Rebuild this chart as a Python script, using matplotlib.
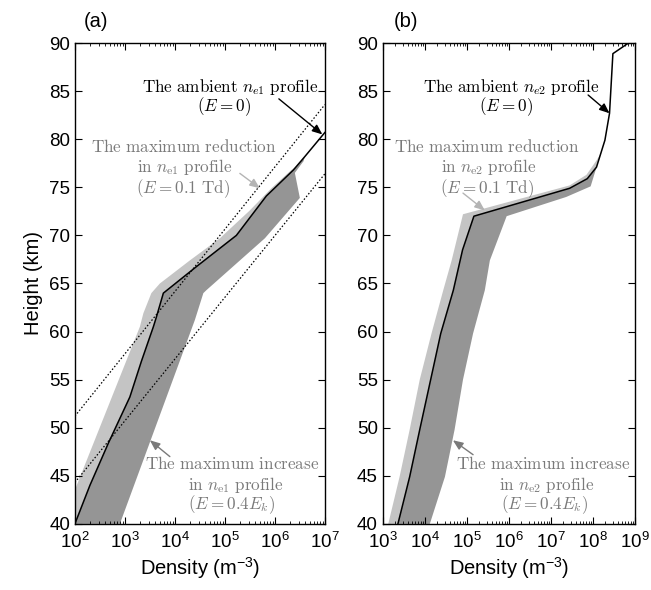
import numpy as np
import matplotlib
matplotlib.use('Agg')
import matplotlib.pyplot as plt
from matplotlib.ticker import LogLocator

plt.rcParams['font.family'] = ['Liberation Sans', 'DejaVu Sans']
plt.rcParams['mathtext.fontset'] = 'custom'
plt.rcParams['mathtext.rm'] = 'Liberation Sans'
plt.rcParams['mathtext.it'] = 'Liberation Sans:italic'

# ---- panel (a): n_e1 profiles, heights in km, densities as log10(m^-3)
a_amb_h = [40.0, 44.0, 48.4, 53.2, 56.9, 60.5, 61.5, 64.0, 66.75, 70.0, 74.1, 76.8, 78.2, 80.7]
a_amb_log = [2.0, 2.3, 2.67, 3.1, 3.33, 3.57, 3.63, 3.77, 4.43, 5.23, 5.83, 6.37, 6.6, 7.0]
a_red_h = [40.0, 60.5, 61.9, 64.0, 65.0, 67.4, 69.7, 72.6, 74.9, 76.8, 77.7, 78.2]
a_red_log = [1.73, 3.3, 3.37, 3.53, 3.7, 4.3, 4.9, 5.5, 5.93, 6.33, 6.57, 6.6]
a_inc_h = [40.0, 61.2, 64.0, 64.3, 69.7, 73.9, 76.5, 77.7, 78.2]
a_inc_log = [2.9, 4.4, 4.57, 4.63, 5.8, 6.5, 6.4, 6.57, 6.6]
a_dot1_log = [2.0, 7.0]
a_dot1_h = [51.2, 83.6]
a_dot2_log = [2.0, 7.0]
a_dot2_h = [44.3, 76.4]

# ---- panel (b): n_e2 profiles
b_amb_h = [40.0, 44.9, 49.8, 55.0, 59.8, 64.3, 68.5, 72.0, 74.9, 75.9, 77.1, 78.5, 79.9, 82.7, 85.8, 88.9, 90.0]
b_amb_log = [3.36, 3.64, 3.88, 4.14, 4.38, 4.68, 4.9, 5.17, 7.45, 7.87, 8.09, 8.19, 8.29, 8.40, 8.44, 8.48, 8.85]
b_red_h = [40.0, 44.9, 49.8, 55.0, 59.8, 64.3, 67.4, 72.2, 75.2, 76.3, 77.8, 78.5]
b_red_log = [3.13, 3.40, 3.64, 3.88, 4.16, 4.44, 4.64, 4.91, 7.45, 7.85, 8.09, 8.19]
b_inc_h = [40.0, 44.9, 49.8, 55.0, 59.8, 64.3, 67.4, 72.0, 74.0, 75.1, 76.8, 78.5]
b_inc_log = [4.12, 4.48, 4.71, 4.91, 5.15, 5.43, 5.55, 5.95, 7.37, 7.95, 8.07, 8.19]

light = '#c4c4c4'
dark = '#959595'
txtgray = '#7a7a7a'

fig = plt.figure(figsize=(6.51, 5.90), dpi=100)
ax1 = fig.add_axes([0.115, 0.112, 0.384, 0.815])
ax2 = fig.add_axes([0.588, 0.112, 0.387, 0.815])


def draw_panel(ax, amb_h, amb_log, red_h, red_log, inc_h, inc_log):
    amb_h = np.array(amb_h)
    amb = 10.0 ** np.array(amb_log)
    red = 10.0 ** np.array(red_log)
    inc = 10.0 ** np.array(inc_log)
    # ambient part below where the bands close up
    m = amb_h <= red_h[-1] + 1e-9
    ax.fill(np.concatenate([red, amb[m][::-1]]), np.concatenate([red_h, amb_h[m][::-1]]),
            color=light, lw=0, zorder=1)
    m = amb_h <= inc_h[-1] + 1e-9
    ax.fill(np.concatenate([inc, amb[m][::-1]]), np.concatenate([inc_h, amb_h[m][::-1]]),
            color=dark, lw=0, zorder=1)
    ax.plot(amb, amb_h, color='black', lw=1.1, zorder=3)


def style(ax, xlo, xhi):
    ax.set_xscale('log')
    ax.set_xlim(xlo, xhi)
    ax.set_ylim(40, 90)
    ax.set_yticks(range(40, 91, 5))
    ax.xaxis.set_major_locator(LogLocator(base=10, numticks=20))
    ax.xaxis.set_minor_locator(LogLocator(base=10, subs=np.arange(2, 10), numticks=20))
    ax.tick_params(which='both', direction='in', top=True, right=True, labelsize=13.5)
    ax.tick_params(which='major', length=5)
    ax.tick_params(which='minor', length=2.5)
    ax.tick_params(axis='x', pad=6)
    for s in ax.spines.values():
        s.set_linewidth(1.0)
    ax.set_xlabel(r'Density (m$^{\mathregular{-3}}$)', fontsize=14.5, labelpad=2)


draw_panel(ax1, a_amb_h, a_amb_log, a_red_h, a_red_log, a_inc_h, a_inc_log)
ax1.plot(10.0 ** np.array(a_dot1_log), a_dot1_h, color='black', ls=(0, (1.2, 1.6)), lw=0.9, zorder=2)
ax1.plot(10.0 ** np.array(a_dot2_log), a_dot2_h, color='black', ls=(0, (1.2, 1.6)), lw=0.9, zorder=2)
style(ax1, 1e2, 1e7)
ax1.set_ylabel('Height (km)', fontsize=14.5, labelpad=4)

draw_panel(ax2, b_amb_h, b_amb_log, b_red_h, b_red_log, b_inc_h, b_inc_log)
style(ax2, 1e3, 1e9)

fs = 12.3


def label(ax, ys, lines, color, xs):
    for x, y, t in zip(xs, ys, lines):
        ax.text(10 ** x, y, t, ha='center', va='center', color=color, fontsize=fs,
                math_fontfamily='cm', zorder=5)


def arrow(ax, tail, tip, color):
    ax.annotate('', xy=(10 ** tip[0], tip[1]), xytext=(10 ** tail[0], tail[1]),
                arrowprops=dict(arrowstyle='-|>,head_length=0.6,head_width=0.25', color=color, lw=1.0,
                                shrinkA=0, shrinkB=0), zorder=6)


# panel (a) annotations
label(ax1, [85.4, 83.4], [r'$\mathrm{The\ ambient\ }n_{e1}\mathrm{\ profile}$', r'$(E=0)$'],
      'black', xs=[5.1, 4.98])
label(ax1, [79.2, 77.1, 74.9],
      [r'$\mathrm{The\ maximum\ reduction}$', r'$\mathrm{in\ }n_{\rm e1}\mathrm{\ profile}$',
       r'$(E=0.1\ \mathrm{Td})$'], txtgray, xs=[4.18, 4.2, 4.16])
label(ax1, [46.3, 44.0, 42.0],
      [r'$\mathrm{The\ maximum\ increase}$', r'$\mathrm{in\ }n_{\rm e1}\mathrm{\ profile}$',
       r'$(E=0.4E_k)$'], txtgray, xs=[5.14, 5.22, 5.14])
arrow(ax1, (6.08, 84.2), (6.95, 80.5), 'black')
arrow(ax1, (5.3, 76.45), (5.7, 74.9), '#b4b4b4')
arrow(ax1, (3.9, 47.0), (3.5, 48.7), txtgray)

# panel (b) annotations
label(ax2, [85.4, 83.4], [r'$\mathrm{The\ ambient\ }n_{e2}\mathrm{\ profile}$', r'$(E=0)$'],
      'black', xs=[6.07, 5.93])
label(ax2, [79.2, 77.1, 74.9],
      [r'$\mathrm{The\ maximum\ reduction}$', r'$\mathrm{in\ }n_{\rm e2}\mathrm{\ profile}$',
       r'$(E=0.1\ \mathrm{Td})$'], txtgray, xs=[5.48, 5.52, 5.48])
label(ax2, [46.3, 44.0, 42.0],
      [r'$\mathrm{The\ maximum\ increase}$', r'$\mathrm{in\ }n_{\rm e2}\mathrm{\ profile}$',
       r'$(E=0.4E_k)$'], txtgray, xs=[6.83, 6.9, 6.86])
arrow(ax2, (7.89, 84.6), (8.40, 82.7), 'black')
arrow(ax2, (4.91, 74.4), (5.43, 72.6), '#b4b4b4')
arrow(ax2, (5.15, 47.2), (4.67, 48.7), txtgray)

fig.text(0.147, 0.963, '(a)', fontsize=14.5, ha='center', va='center')
fig.text(0.624, 0.963, '(b)', fontsize=14.5, ha='center', va='center')

fig.savefig('out.png', dpi=100)
